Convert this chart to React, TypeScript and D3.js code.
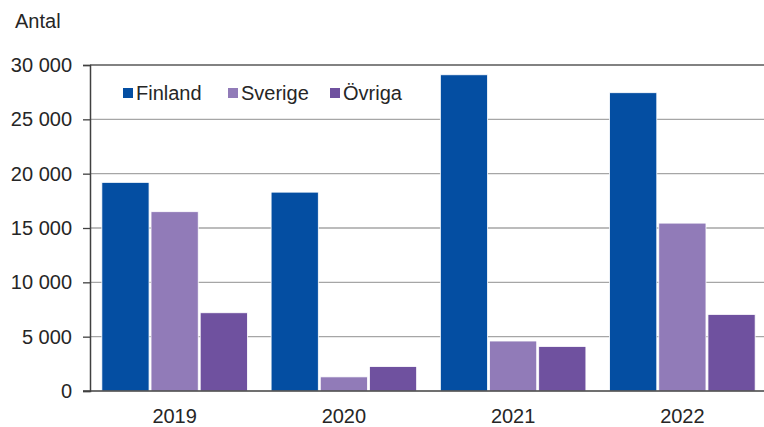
import React, { useEffect, useRef } from 'react';
import * as d3 from 'd3';

const years = ['2019', '2020', '2021', '2022'];
const seriesNames = ['Finland', 'Sverige', 'Övriga'];
const finland = [19200, 18300, 29100, 27450];
const sverige = [16500, 1300, 4600, 15450];
const ovriga = [7200, 2250, 4100, 7050];
const yTicks = [0, 5000, 10000, 15000, 20000, 25000, 30000];
const colors = ['#044EA2', '#917BB8', '#6F519F'];

const App = () => {
  const ref = useRef<SVGSVGElement>(null);

  useEffect(() => {
    const svg = d3.select(ref.current);
    svg.selectAll('*').remove();

    const left = 90, right = 767, top = 65, bottom = 391;
    const font = '"Liberation Sans", Arial, sans-serif';
    const fsize = '20px';

    const x0 = d3.scaleBand().domain(years).range([left, right]).paddingInner(0.14).paddingOuter(0.07);
    const x1 = d3.scaleBand().domain(seriesNames).range([0, x0.bandwidth()]).paddingInner(0.04);
    const y = d3.scaleLinear().domain([0, 30000]).range([bottom, top]);

    const fmt = (v: number) => d3.format(',')(v).replace(/,/g, ' ');

    // gridlines
    svg.append('g')
      .selectAll('line')
      .data(yTicks.filter(t => t > 0 && t < 30000))
      .enter()
      .append('line')
      .attr('x1', left).attr('x2', right)
      .attr('y1', d => y(d)).attr('y2', d => y(d))
      .attr('stroke', '#A6A6A6').attr('stroke-width', 1.3);

    // top border
    svg.append('line')
      .attr('x1', left).attr('x2', right)
      .attr('y1', y(30000)).attr('y2', y(30000))
      .attr('stroke', '#595959').attr('stroke-width', 1.5);

    const table = years.map((yr, i) => ({ year: yr, values: [finland[i], sverige[i], ovriga[i]] }));

    const group = svg.append('g')
      .selectAll('g')
      .data(table)
      .enter()
      .append('g')
      .attr('transform', d => `translate(${x0(d.year)},0)`);

    group.selectAll('rect')
      .data(d => d.values.map((v, k) => ({ name: seriesNames[k], value: v, k })))
      .enter()
      .append('rect')
      .attr('x', d => x1(d.name)!)
      .attr('y', d => y(d.value))
      .attr('width', x1.bandwidth())
      .attr('height', d => bottom - y(d.value))
      .attr('fill', d => colors[d.k])
      .attr('stroke', '#ffffff')
      .attr('stroke-width', 0.8);

    // axes
    const yAxis = d3.axisLeft(y).tickValues(yTicks).tickSize(7).tickFormat(d => fmt(+d));
    const gy = svg.append('g').attr('transform', `translate(${left},0)`).call(yAxis);
    gy.select('.domain').attr('stroke', '#404040').attr('stroke-width', 1.5);
    gy.selectAll('.tick line').attr('stroke', '#404040').attr('stroke-width', 1.3);
    gy.selectAll('.tick text')
      .attr('x', -18)
      .style('font-family', font)
      .style('font-size', fsize)
      .attr('fill', '#262626');

    svg.append('line')
      .attr('x1', left - 7).attr('x2', right)
      .attr('y1', bottom).attr('y2', bottom)
      .attr('stroke', '#404040').attr('stroke-width', 1.5);

    svg.append('g')
      .selectAll('text')
      .data(years)
      .enter()
      .append('text')
      .attr('x', d => x0(d)! + x0.bandwidth() / 2)
      .attr('y', 423)
      .attr('text-anchor', 'middle')
      .style('font-family', font)
      .style('font-size', fsize)
      .attr('fill', '#262626')
      .text(d => d);

    svg.append('text')
      .attr('x', 15).attr('y', 28)
      .style('font-family', font)
      .style('font-size', fsize)
      .attr('fill', '#262626')
      .text('Antal');

    // legend
    const legendX = [123, 228, 330];
    const lg = svg.append('g')
      .selectAll('g')
      .data(seriesNames)
      .enter()
      .append('g')
      .attr('transform', (d, i) => `translate(${legendX[i]},88)`);
    lg.append('rect').attr('width', 10).attr('height', 10).attr('fill', (d, i) => colors[i]);
    lg.append('text')
      .attr('x', 13).attr('y', 12)
      .style('font-family', font)
      .style('font-size', fsize)
      .attr('fill', '#262626')
      .text(d => d);
  }, []);

  return (
    <svg ref={ref} width={764} height={427} style={{ position: 'absolute', left: 0, top: 0, background: '#fff' }} />
  );
};

export default App;
